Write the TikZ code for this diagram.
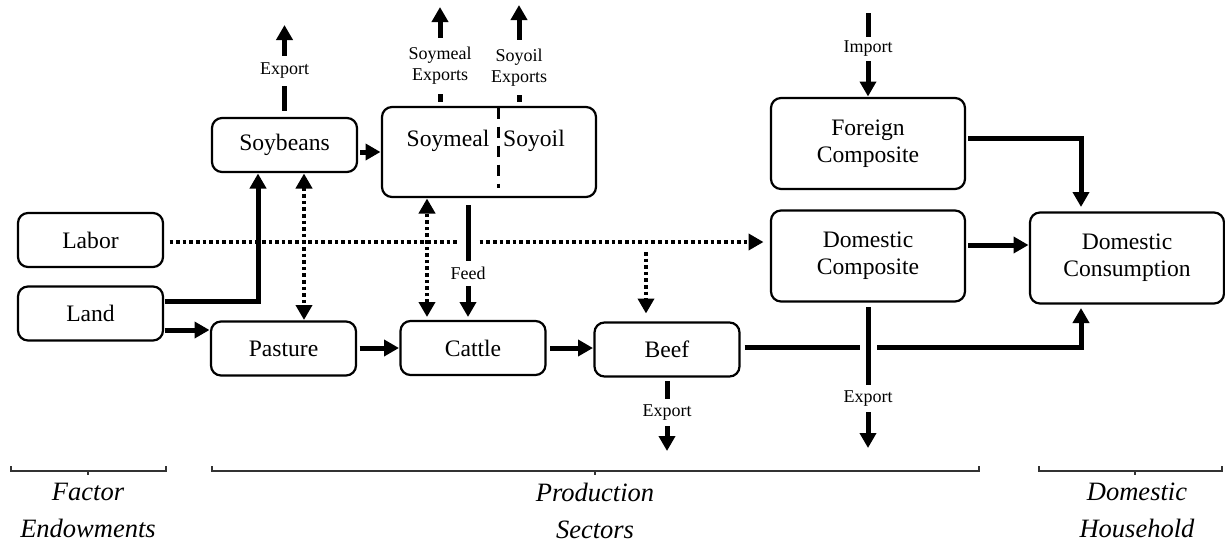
\documentclass[tikz,border=0pt]{standalone}
\usepackage{fontspec}
\setmainfont{Liberation Serif}
\usetikzlibrary{calc, arrows.meta}
\usetikzlibrary{positioning}

\begin{document}
\begin{tikzpicture}[x=1pt, y=-1pt,
    >={Triangle[length=15pt, width=16pt]},
    sector/.style={rectangle, draw, rounded corners=10pt, line width=2.2pt, align=center,
                   inner sep=0pt, outer sep=1.5pt, font=\fontsize{23.6}{27}\selectfont},
    short-sector/.style={sector, minimum width=145pt, minimum height=54pt},
    tall-sector/.style={sector, minimum width=194pt, minimum height=91pt},
    flow/.style={->, line width=5pt},
    dotflow/.style={->, line width=3.8pt, dash pattern=on 3.6pt off 3pt},
    tag/.style={fill=white, inner xsep=1pt, inner ysep=5pt, align=center,
                font=\fontsize{18}{21}\selectfont},
    divider/.style={line width=3pt, dash pattern=on 11pt off 8pt},
    bridge/.style={draw=white, line width=19pt},
    bracket/.style={line width=1.6pt, draw=black!80},
    group/.style={align=center, font=\fontsize{26.5}{37}\selectfont\itshape}
]

\useasboundingbox (0,0) rectangle (1225,549);

% factor endowments
\node[short-sector] (labor) at (90.5,240) {Labor};
\node[short-sector] (land) at (90.5,313.5) {Land};

% production sectors
\node[short-sector] (soybeans) at (284.5,145) {Soybeans};
\node[sector, minimum width=214pt, minimum height=90pt] (soyproc) at (489,152) {};
\node[font=\fontsize{23.6}{27}\selectfont] (soymeal_label) at (448,140.5) {Soymeal};
\node[font=\fontsize{23.6}{27}\selectfont] (soyoil_label) at (534,140.5) {Soyoil};
\draw[divider] ([xshift=9pt, yshift=-2pt]soyproc.north) -- ++(0,80);

\node[short-sector] (pasture) at (283.5,348.5) {Pasture};
\node[short-sector] (cattle) at (473,348) {Cattle};
\node[short-sector] (beef) at (667,349.5) {Beef};

\node[tall-sector] (foreign) at (868,143.5) {Foreign\\Composite};
\node[tall-sector] (domcomp) at (868,256) {Domestic\\Composite};

% domestic household
\node[tall-sector] (domcons) at (1127,258) {Domestic\\Consumption};

% free ends and guide lines
\coordinate (soy_exp) at (284.5,25);
\coordinate (meal_exp) at (440,7);
\coordinate (oil_exp) at (519,5);
\coordinate (import_src) at (868,13);
\coordinate (beef_exp) at (667,451);
\coordinate (dom_exp) at (868,448);
\coordinate (feed_x) at (468,0);
\coordinate (branch_x) at (646,0);
\coordinate (cons_x) at (1081,0);
\coordinate (labor_out) at ([yshift=-2pt]labor.east);

% labor
\draw[dotflow, shorten <=5pt, shorten >=6pt] (labor_out) -- (labor_out -| domcomp.west);
\draw[dotflow, shorten <=10pt, shorten >=7.5pt] (labor_out -| branch_x) -- (beef.north -| branch_x);

% land
\draw[flow] ([yshift=12.5pt]land.east) -| ([xshift=-26.5pt]soybeans.south);
\draw[flow] ([yshift=-16.5pt]land.east) coordinate (land_out) -- (land_out -| pasture.west);

% soybeans and soy products
\draw[flow, shorten <=1.5pt] (soybeans.east |- soyproc.west) -- (soyproc.west);
\draw[flow, shorten <=6pt] (soybeans.north) -- node[tag, inner ysep=7pt] {Export} (soy_exp);
\draw[flow, shorten <=4pt] (soyproc.north -| meal_exp) -- node[tag, pos=0.4, inner ysep=9pt] {Soymeal\\Exports} (meal_exp);
\draw[flow, shorten <=4pt] (soyproc.north -| oil_exp) -- node[tag, pos=0.38, inner ysep=9pt] {Soyoil\\Exports} (oil_exp);

\draw[dotflow, <->] ([xshift=19.5pt]soybeans.south) -- ([xshift=19.5pt]soybeans.south |- pasture.north);
\draw[dotflow, <->, shorten <=2.5pt] ([xshift=-46pt]cattle.north) -- ([xshift=-46pt]cattle.north |- soyproc.south);

\draw[bridge] ($(labor_out -| feed_x)+(0,-4)$) -- ++(0,8);
\draw[flow, shorten <=6.5pt, shorten >=2.5pt] (soyproc.south -| feed_x) -- node[tag, pos=0.62, inner ysep=6pt] {Feed} (cattle.north -| feed_x);

% livestock chain
\draw[flow, shorten <=2pt] (pasture.east |- cattle.west) -- (cattle.west);
\draw[flow, shorten <=3pt] (cattle.east) -- (cattle.east -| beef.west);
\draw[flow, shorten <=3pt] (beef.south) -- node[tag, pos=0.47, inner ysep=6pt] {Export} (beef_exp);

% composites and consumption
\draw[flow, shorten <=3.5pt, shorten >=3pt] ([yshift=2.5pt]beef.east) coordinate (beef_out) -| (domcons.south -| cons_x);
\draw[bridge, line width=17pt] ($(beef_out -| domcomp.south)+(0,-4)$) -- ++(0,8);
\draw[flow, shorten <=4pt] (domcomp.south) -- node[tag, pos=0.66, inner ysep=5.5pt] {Export} (dom_exp);

\draw[flow] (import_src) -- node[tag, pos=0.43, inner ysep=4pt] {Import} (foreign.north);
\draw[flow, shorten <=1.5pt, shorten >=4pt] ([yshift=5.5pt]foreign.east) -| (domcons.north -| cons_x);
\draw[flow, shorten <=1.5pt] ([yshift=11pt]domcomp.east) coordinate (comp_out) -- (comp_out -| domcons.west);

% group brackets
\draw[bracket] (11,466) -- ++(0,5) -- ++(155,0) -- ++(0,-5);
\draw[bracket] (88,471) -- ++(0,4);
\draw[bracket] (212,466) -- ++(0,5) -- ++(767,0) -- ++(0,-5);
\draw[bracket] (595,471) -- ++(0,4);
\draw[bracket] (1039,466) -- ++(0,5) -- ++(183,0) -- ++(0,-5);
\draw[bracket] (1135,471) -- ++(0,4);

\node[group] (factor_label) at (88,510.5) {Factor\\Endowments};
\node[group] (sector_label) at (595,510.5) {Production\\Sectors};
\node[group] (household_label) at (1137,510.5) {Domestic\\Household};

\end{tikzpicture}
\end{document}
